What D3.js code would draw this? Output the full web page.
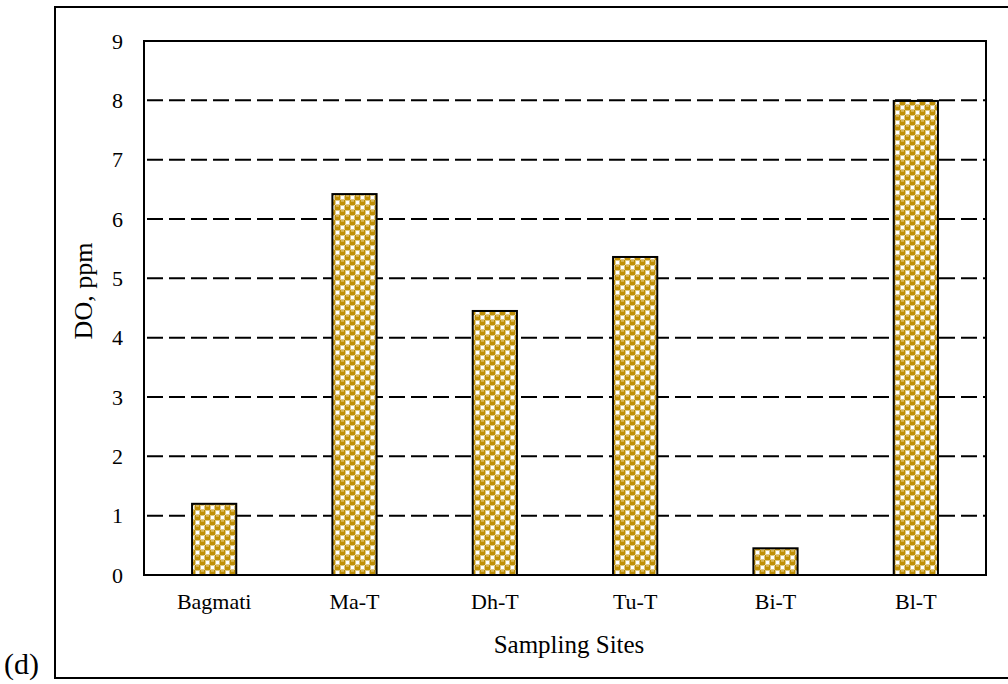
<!DOCTYPE html>
<html>
<head>
<meta charset="utf-8">
<script src="https://cdn.jsdelivr.net/npm/d3@7"></script>
<style>
  html, body { margin: 0; padding: 0; background: #fff; }
  svg { display: block; font-family: "Liberation Serif", "Times New Roman", serif; }
</style>
</head>
<body>
<svg id="chart" width="1008" height="684"></svg>
<script>
// Dissolved oxygen by sampling site
const sites = ["Bagmati", "Ma-T", "Dh-T", "Tu-T", "Bi-T", "Bl-T"];
const doValues = [1.2, 6.42, 4.45, 5.36, 0.45, 7.99];
const yTicks = [0, 1, 2, 3, 4, 5, 6, 7, 8, 9];

const svg = d3.select("#chart");
const margin = { left: 144, top: 41, right: 986, bottom: 575 };

// Checkered gold fill for the bars: rounded gold cells with a light sheen
const defs = svg.append("defs");
const pat = defs.append("pattern")
  .attr("id", "checks")
  .attr("patternUnits", "userSpaceOnUse")
  .attr("width", 10).attr("height", 10);
pat.append("rect").attr("width", 10).attr("height", 10).attr("fill", "#ffffff");
[[0, 0], [5, 5], [10, 0], [0, 10], [10, 10], [-5, 5], [5, -5]].forEach(([px, py]) => {
  pat.append("rect").attr("x", px - 0.5).attr("y", py - 0.5)
    .attr("width", 6).attr("height", 6).attr("rx", 2).attr("fill", "#c08f06");
  pat.append("rect").attr("x", px + 1).attr("y", py + 0.4)
    .attr("width", 3).attr("height", 1.1).attr("fill", "#ead390");
});

const x = d3.scaleBand()
  .domain(sites)
  .range([margin.left, margin.right])
  .paddingInner(0.685)
  .paddingOuter(0.3425);

const y = d3.scaleLinear()
  .domain([0, 9])
  .range([margin.bottom, margin.top]);

// Outer frame
svg.append("rect")
  .attr("x", 55).attr("y", 7)
  .attr("width", 1000).attr("height", 671)
  .attr("fill", "none").attr("stroke", "#000").attr("stroke-width", 2);

// Dashed gridlines
svg.append("g")
  .selectAll("line")
  .data(yTicks.filter(t => t > 0 && t < 9))
  .join("line")
  .attr("x1", margin.left + 3).attr("x2", margin.right)
  .attr("y1", d => y(d)).attr("y2", d => y(d))
  .attr("stroke", "#000").attr("stroke-width", 2)
  .attr("stroke-dasharray", "16,6");

// Bars
svg.append("g")
  .selectAll("rect")
  .data(sites.map((s, i) => ({ site: s, v: doValues[i] })))
  .join("rect")
  .attr("x", d => x(d.site))
  .attr("y", d => y(d.v))
  .attr("width", x.bandwidth())
  .attr("height", d => y(0) - y(d.v))
  .attr("fill", "url(#checks)")
  .attr("stroke", "#000").attr("stroke-width", 2);

// Plot area border
svg.append("rect")
  .attr("x", margin.left).attr("y", margin.top)
  .attr("width", margin.right - margin.left)
  .attr("height", margin.bottom - margin.top)
  .attr("fill", "none").attr("stroke", "#000").attr("stroke-width", 2);

// Y axis labels
const yAxis = d3.axisLeft(y).tickValues(yTicks).tickSize(0).tickPadding(21);
svg.append("g")
  .attr("transform", `translate(${margin.left},0)`)
  .call(yAxis)
  .call(g => g.select(".domain").remove())
  .call(g => g.selectAll("text")
    .attr("font-family", "Liberation Serif, serif")
    .attr("font-size", 22).attr("fill", "#000"));

// X axis labels
const xAxis = d3.axisBottom(x).tickSize(0).tickPadding(18);
svg.append("g")
  .attr("transform", `translate(0,${margin.bottom})`)
  .call(xAxis)
  .call(g => g.select(".domain").remove())
  .call(g => g.selectAll("text")
    .attr("font-family", "Liberation Serif, serif")
    .attr("font-size", 22).attr("fill", "#000"));

// Axis titles
svg.append("text")
  .attr("x", 569)
  .attr("y", 653)
  .attr("text-anchor", "middle")
  .attr("font-size", 25)
  .text("Sampling Sites");

svg.append("text")
  .attr("transform", `translate(92,291) rotate(-90)`)
  .attr("text-anchor", "middle")
  .attr("font-size", 26)
  .text("DO, ppm");

svg.append("text")
  .attr("x", 4).attr("y", 674)
  .attr("font-size", 30)
  .text("(d)");
</script>
</body>
</html>
